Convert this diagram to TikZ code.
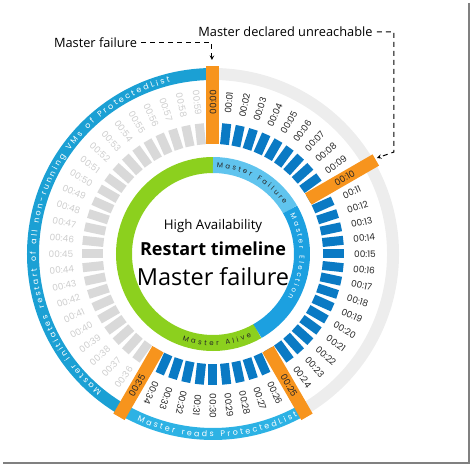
\documentclass[tikz,border=0pt]{standalone}
\usepackage{fontspec}
\setmainfont{Open Sans}
\newfontfamily\timefont{Poppins}
\usetikzlibrary{decorations.text}

\definecolor{ringblue}{RGB}{27,160,212}
\definecolor{readsblue}{RGB}{45,178,228}
\definecolor{ringgrey}{RGB}{237,237,237}
\definecolor{barblue}{RGB}{10,122,196}
\definecolor{bargrey}{RGB}{217,217,217}
\definecolor{markorange}{RGB}{247,148,29}
\definecolor{alivegreen}{RGB}{140,208,30}
\definecolor{failblue}{RGB}{96,196,238}
\definecolor{electblue}{RGB}{28,160,224}
\definecolor{labelgrey}{RGB}{205,205,205}

\newcommand{\ringfont}{\timefont\fontsize{8}{9}\selectfont}
\newcommand{\phasefont}{\timefont\fontsize{7}{8}\selectfont}

\tikzset{
    timelabel/.style = {font=\timefont\fontsize{9}{10}\selectfont, inner sep=0pt},
    note/.style = {font=\fontsize{12.8}{14}\selectfont, inner sep=0pt},
    pointer/.style = {line width=1pt, dash pattern=on 5pt off 4pt, -stealth},
}

\begin{document}
\begin{tikzpicture}[x=1pt, y=1pt]
    \useasboundingbox (-213, -212) rectangle (259, 254);

    % outer ring
    \draw[line width=12pt, ringblue] (90:180) arc[start angle=90, end angle=240, radius=180];
    \draw[line width=12pt, readsblue] (240:180) arc[start angle=240, end angle=300, radius=180];
    \draw[line width=12pt, ringgrey] (-60:180) arc[start angle=-60, end angle=90, radius=180];

    % inner ring
    \draw[line width=16pt, alivegreen] (90:89) arc[start angle=90, end angle=300, radius=89];
    \draw[line width=16pt, failblue] (30:89) arc[start angle=30, end angle=90, radius=89];
    \draw[line width=16pt, electblue] (-60:89) arc[start angle=-60, end angle=30, radius=89];

    \foreach \i in {1,...,59} {
        \ifnum\i<35 \def\barcol{barblue}\else \def\barcol{bargrey}\fi
        \fill[\barcol, rotate=90-6*\i] (110,-4.5) rectangle (131,4.5);
    }
    \foreach \i in {0,10,25,35} {
        \fill[markorange, rotate=90-6*\i] (110,-6.5) rectangle (188,6.5);
    }

    \foreach \i in {0,...,59} {
        \pgfmathsetmacro{\ang}{90-6*\i}
        \ifnum\i<35 \pgfmathsetmacro{\rot}{\ang}\else \pgfmathsetmacro{\rot}{\ang+180}\fi
        \ifnum\i<36 \def\lcol{black!85}\else \def\lcol{labelgrey}\fi
        \node[timelabel, text=\lcol, rotate=\rot] (t\i) at (\ang:152) {00:\ifnum\i<10 0\fi\i};
    }

    \path[decorate, decoration={text along path, text color=white, text align={fit to path},
        text={|\ringfont|Master initiates restart of all non-running VMs of ProtectedList}}]
        (231:177) arc[start angle=231, end angle=104, radius=177];
    \path[decorate, decoration={text along path, text color=white, text align={fit to path},
        text={|\ringfont|Master reads ProtectedList}}]
        (245.5:183) arc[start angle=245.5, end angle=297.5, radius=183];

    \path[decorate, decoration={text along path, text color=black!85, text align={fit to path},
        text={|\phasefont|Master Failure}}]
        (87.5:86.5) arc[start angle=87.5, end angle=35, radius=86.5];
    \path[decorate, decoration={text along path, text color=white, text align={fit to path},
        text={|\phasefont|Master Election}}]
        (27:86.5) arc[start angle=27, end angle=-30, radius=86.5];
    \path[decorate, decoration={text along path, text color=black!85, text align={fit to path},
        text={|\phasefont|Master Alive}}]
        (250.5:91.5) arc[start angle=250.5, end angle=295, radius=91.5];

    \node[font=\fontsize{13.3}{15}\selectfont] (avail) at (0,28) {High Availability};
    \node[font=\bfseries\fontsize{18}{20}\selectfont] (timeline) at (0,5) {Restart timeline};
    \node[font=\fontsize{23.5}{26}\selectfont] (title) at (0,-23) {Master failure};

    \node[note] (failnote) at (-117.5,211) {Master failure};
    \coordinate (failtip) at (-1,194);
    \draw[pointer] ([xshift=4pt]failnote.east) -| (failtip);

    \node[note] (unreachnote) at (72.5,222) {Master declared unreachable};
    \coordinate (unreachbend) at (181,102);
    \coordinate (unreachtip) at (164,96);
    \draw[pointer] ([xshift=4pt]unreachnote.east) -| (unreachbend) -- (unreachtip);

    \draw[black!50, line width=2.5pt] (256,251) -- (256,-209) -- (-210,-209);
\end{tikzpicture}
\end{document}
